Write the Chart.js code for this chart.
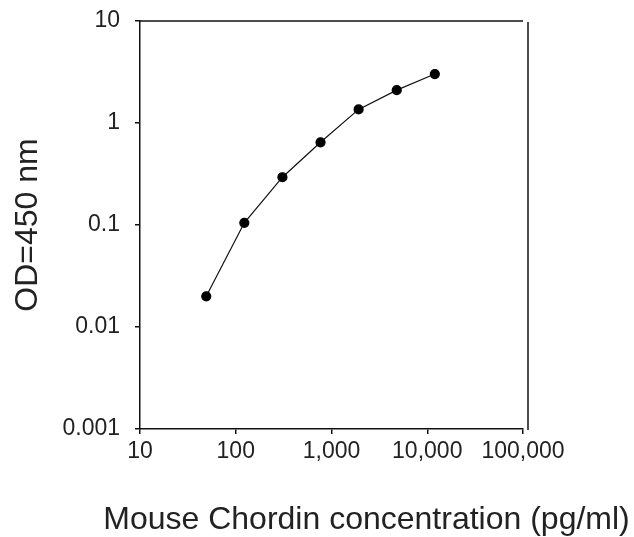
<!DOCTYPE html>
<html>
<head>
<meta charset="utf-8">
<script src="https://cdn.jsdelivr.net/npm/chart.js@4.4.1/dist/chart.umd.min.js"></script>
<style>
  html, body { margin: 0; padding: 0; background: #ffffff; }
  #wrap { width: 634px; height: 537px; }
</style>
</head>
<body>
<div id="wrap"><canvas id="c" width="634" height="537"></canvas></div>
<script>
// Data
const concentrations = [49.2, 122.9, 307.2, 768, 1920, 4800, 12000];
const odValues = [0.020, 0.105, 0.294, 0.647, 1.36, 2.10, 3.02];
const xTickValues = [10, 100, 1000, 10000, 100000];
const xTickLabels = ['10', '100', '1,000', '10,000', '100,000'];
const yTickValues = [0.001, 0.01, 0.1, 1, 10];
const yTickLabels = ['0.001', '0.01', '0.1', '1', '10'];
const xTitle = 'Mouse Chordin concentration (pg/ml)';
const yTitle = 'OD=450 nm';

const points = concentrations.map((x, i) => ({ x: x, y: odValues[i] }));

const framePlugin = {
  id: 'frame',
  afterDraw(chart) {
    const { ctx, chartArea } = chart;
    const { left, right, top, bottom } = chartArea;
    ctx.save();
    ctx.strokeStyle = '#111';
    ctx.lineWidth = 1.5;
    ctx.beginPath();
    ctx.moveTo(left, top);
    ctx.lineTo(right, top);
    ctx.stroke();
    ctx.beginPath();
    ctx.moveTo(right + 5, top + 1);
    ctx.lineTo(right + 5, bottom + 1);
    ctx.stroke();
    // axis titles
    ctx.fillStyle = '#222';
    ctx.font = '32px "Liberation Sans", Arial, sans-serif';
    ctx.textAlign = 'center';
    ctx.textBaseline = 'alphabetic';
    ctx.fillText(xTitle, left + (right - left) / 2 + 35, 529);
    ctx.translate(28, top + (bottom - top) / 2);
    ctx.rotate(-Math.PI / 2);
    ctx.textBaseline = 'middle';
    ctx.fillText(yTitle, 0, 0);
    ctx.restore();
  }
};

new Chart(document.getElementById('c'), {
  type: 'scatter',
  data: {
    datasets: [{
      data: points,
      showLine: true,
      borderColor: '#111',
      borderWidth: 1.2,
      backgroundColor: '#000',
      pointBackgroundColor: '#000',
      pointBorderColor: '#000',
      pointRadius: 4.5,
      pointHoverRadius: 4.5,
      tension: 0
    }]
  },
  options: {
    responsive: false,
    animation: false,
    events: [],
    layout: { padding: { left: 0, top: 21, right: 111, bottom: 0 } },
    plugins: {
      legend: { display: false },
      tooltip: { enabled: false },
      title: { display: false }
    },
    scales: {
      x: {
        type: 'logarithmic',
        min: 10,
        max: 100000,
        afterBuildTicks(scale) {
          scale.ticks = xTickValues.map(v => ({ value: v, major: true }));
        },
        afterFit(scale) {
          scale.height = 108;
          scale.paddingLeft = 0;
          scale.paddingRight = 0;
        },
        ticks: {
          autoSkip: false,
          maxRotation: 0,
          padding: 4,
          color: '#222',
          font: { family: '"Liberation Sans", Arial, sans-serif', size: 23 },
          callback(value) {
            const i = xTickValues.indexOf(value);
            return i >= 0 ? xTickLabels[i] : '';
          }
        },
        grid: { display: true, drawOnChartArea: false, drawTicks: true, tickLength: 5, color: '#111', lineWidth: 1.5 },
        border: { display: true, color: '#111', width: 1.5 }
      },
      y: {
        type: 'logarithmic',
        min: 0.001,
        max: 10,
        afterBuildTicks(scale) {
          scale.ticks = yTickValues.map(v => ({ value: v, major: true }));
        },
        afterFit(scale) {
          scale.width = 140;
          scale.paddingTop = 0;
          scale.paddingBottom = 0;
        },
        ticks: {
          autoSkip: false,
          padding: 15,
          color: '#222',
          font: { family: '"Liberation Sans", Arial, sans-serif', size: 23 },
          callback(value) {
            const i = yTickValues.findIndex(v => Math.abs(v - value) / v < 1e-6);
            return i >= 0 ? yTickLabels[i] : '';
          }
        },
        grid: { display: true, drawOnChartArea: false, drawTicks: true, tickLength: 5, color: '#111', lineWidth: 1.5 },
        border: { display: true, color: '#111', width: 1.5 }
      }
    }
  },
  plugins: [framePlugin]
});
</script>
</body>
</html>
